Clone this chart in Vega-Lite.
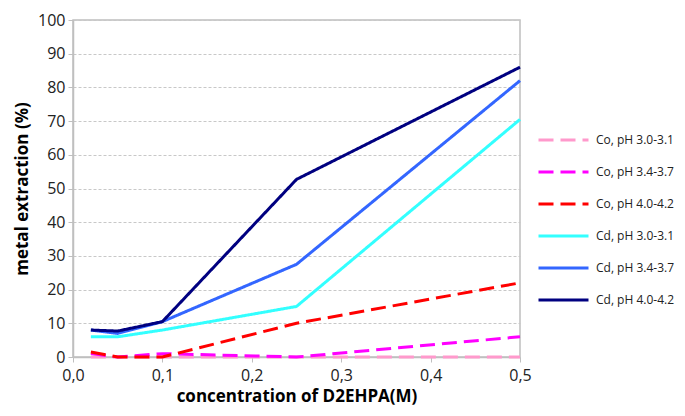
{
  "$schema": "https://vega.github.io/schema/vega-lite/v6.json",
  "width": 447,
  "height": 337,
  "autosize": "none",
  "padding": {"left": 73, "top": 20, "right": 165, "bottom": 59},
  "background": "white",
  "config": {
    "font": "Open Sans",
    "view": {"stroke": "#bfbfbf", "strokeWidth": 1.5}
  },
  "data": {
    "values": [
      {"series": "Co, pH 3.0-3.1", "c": 0.02, "e": 0},
      {"series": "Co, pH 3.0-3.1", "c": 0.05, "e": 0},
      {"series": "Co, pH 3.0-3.1", "c": 0.1, "e": 0},
      {"series": "Co, pH 3.0-3.1", "c": 0.25, "e": 0},
      {"series": "Co, pH 3.0-3.1", "c": 0.5, "e": 0},
      {"series": "Co, pH 3.4-3.7", "c": 0.02, "e": 1},
      {"series": "Co, pH 3.4-3.7", "c": 0.05, "e": 0},
      {"series": "Co, pH 3.4-3.7", "c": 0.1, "e": 1},
      {"series": "Co, pH 3.4-3.7", "c": 0.25, "e": 0},
      {"series": "Co, pH 3.4-3.7", "c": 0.5, "e": 6},
      {"series": "Co, pH 4.0-4.2", "c": 0.02, "e": 1.5},
      {"series": "Co, pH 4.0-4.2", "c": 0.05, "e": 0},
      {"series": "Co, pH 4.0-4.2", "c": 0.1, "e": 0},
      {"series": "Co, pH 4.0-4.2", "c": 0.25, "e": 10},
      {"series": "Co, pH 4.0-4.2", "c": 0.5, "e": 22},
      {"series": "Cd, pH 3.0-3.1", "c": 0.02, "e": 6},
      {"series": "Cd, pH 3.0-3.1", "c": 0.05, "e": 6},
      {"series": "Cd, pH 3.0-3.1", "c": 0.1, "e": 8},
      {"series": "Cd, pH 3.0-3.1", "c": 0.25, "e": 15},
      {"series": "Cd, pH 3.0-3.1", "c": 0.5, "e": 70.5},
      {"series": "Cd, pH 3.4-3.7", "c": 0.02, "e": 8},
      {"series": "Cd, pH 3.4-3.7", "c": 0.05, "e": 7},
      {"series": "Cd, pH 3.4-3.7", "c": 0.1, "e": 10.5},
      {"series": "Cd, pH 3.4-3.7", "c": 0.25, "e": 27.5},
      {"series": "Cd, pH 3.4-3.7", "c": 0.5, "e": 82},
      {"series": "Cd, pH 4.0-4.2", "c": 0.02, "e": 8},
      {"series": "Cd, pH 4.0-4.2", "c": 0.05, "e": 7.7},
      {"series": "Cd, pH 4.0-4.2", "c": 0.1, "e": 10.5},
      {"series": "Cd, pH 4.0-4.2", "c": 0.25, "e": 52.7},
      {"series": "Cd, pH 4.0-4.2", "c": 0.5, "e": 86}
    ]
  },
  "mark": {"type": "line", "strokeWidth": 3, "clip": false},
  "encoding": {
    "x": {
      "field": "c", "type": "quantitative",
      "scale": {"domain": [0, 0.5], "nice": false},
      "axis": {
        "values": [0, 0.1, 0.2, 0.3, 0.4, 0.5],
        "labelExpr": "replace(format(datum.value, '.1f'), '.', ',')",
        "labelFlush": false,
        "title": "concentration of D2EHPA(M)",
        "titleFontSize": 17, "titleFontWeight": "bold", "titleColor": "black",
        "titlePadding": 5,
        "labelFontSize": 16, "labelColor": "#222", "labelPadding": 5,
        "domainColor": "#bfbfbf", "domainWidth": 1.5,
        "tickColor": "#bfbfbf", "tickSize": 5,
        "grid": false
      }
    },
    "y": {
      "field": "e", "type": "quantitative",
      "scale": {"domain": [0, 100], "nice": false},
      "axis": {
        "values": [0, 10, 20, 30, 40, 50, 60, 70, 80, 90, 100],
        "labelFlush": false,
        "title": "metal extraction (%)",
        "titleFontSize": 17, "titleFontWeight": "bold", "titleColor": "black",
        "titlePadding": 6,
        "labelFontSize": 16, "labelColor": "#222", "labelPadding": 3,
        "domainColor": "#bfbfbf", "domainWidth": 1.5,
        "tickColor": "#bfbfbf", "tickSize": 5,
        "grid": true, "gridColor": "#c8c8c8", "gridDash": [3, 2], "gridWidth": 1
      }
    },
    "color": {
      "field": "series", "type": "nominal",
      "scale": {
        "domain": ["Co, pH 3.0-3.1", "Co, pH 3.4-3.7", "Co, pH 4.0-4.2", "Cd, pH 3.0-3.1", "Cd, pH 3.4-3.7", "Cd, pH 4.0-4.2"],
        "range": ["#ff99cc", "#ff00ff", "#ff0000", "#33ffff", "#3366ff", "#000080"]
      },
      "legend": {
        "title": null,
        "orient": "none",
        "legendX": 464,
        "legendY": 110,
        "symbolType": "stroke",
        "symbolSize": 2500,
        "symbolStrokeWidth": 3,
        "clipHeight": 20,
        "rowPadding": 12,
        "labelFontSize": 12,
        "labelFont": "Open Sans",
        "labelColor": "#222",
        "labelOffset": 6
      }
    },
    "strokeDash": {
      "field": "series", "type": "nominal",
      "scale": {
        "domain": ["Co, pH 3.0-3.1", "Co, pH 3.4-3.7", "Co, pH 4.0-4.2", "Cd, pH 3.0-3.1", "Cd, pH 3.4-3.7", "Cd, pH 4.0-4.2"],
        "range": [[15, 7], [15, 7], [15, 7], [1, 0], [1, 0], [1, 0]]
      },
      "legend": null
    }
  }
}
